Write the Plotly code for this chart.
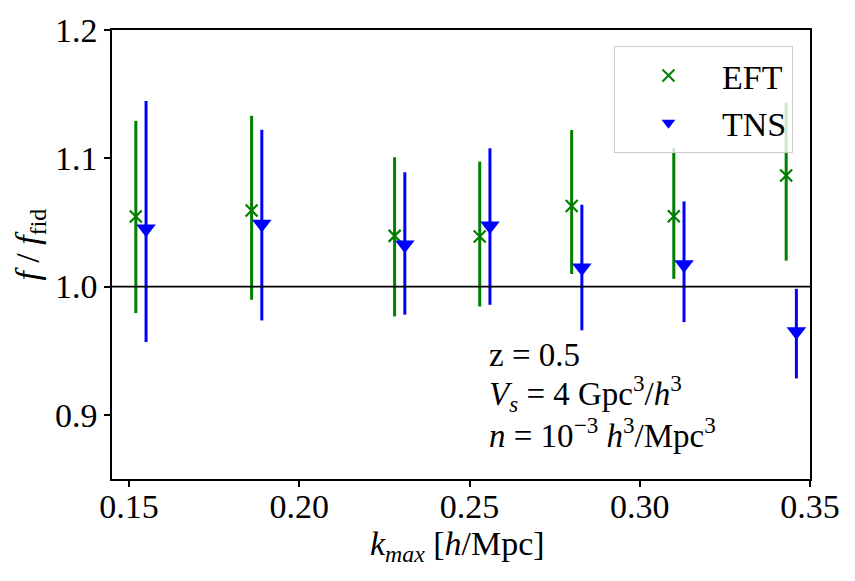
import plotly.graph_objects as go

# Data
k_eft = [0.152, 0.186, 0.228, 0.253, 0.280, 0.310, 0.343]
eft_val = [1.0546, 1.0593, 1.0395, 1.0390, 1.0628, 1.0548, 1.0866]
eft_hi = [1.1292, 1.1331, 1.1008, 1.0974, 1.1220, 1.1078, 1.1434]
eft_lo = [0.9793, 0.9897, 0.9767, 0.9845, 1.0098, 1.0060, 1.0202]

k_tns = [0.155, 0.189, 0.231, 0.256, 0.283, 0.313, 0.346]
tns_val = [1.0450, 1.0488, 1.0326, 1.0475, 1.0147, 1.0173, 0.9649]
tns_hi = [1.1447, 1.1222, 1.0891, 1.1078, 1.0638, 1.0664, 0.9982]
tns_lo = [0.9568, 0.9736, 0.9781, 0.9858, 0.9659, 0.9723, 0.9284]

x_ticks = [0.15, 0.20, 0.25, 0.30, 0.35]
y_ticks = [0.9, 1.0, 1.1, 1.2]

FONT = "Liberation Serif"
GREEN = "#008000"
BLUE = "#0000ff"

fig = go.Figure()

fig.add_trace(go.Scatter(
    x=k_eft, y=eft_val, mode="markers", name="EFT",
    marker=dict(symbol="x-thin-open", size=12, color=GREEN,
                line=dict(color=GREEN, width=2.2)),
    error_y=dict(type="data", symmetric=False,
                 array=[h - v for h, v in zip(eft_hi, eft_val)],
                 arrayminus=[v - l for l, v in zip(eft_lo, eft_val)],
                 color=GREEN, thickness=3, width=0),
))

fig.add_trace(go.Scatter(
    x=k_tns, y=tns_val, mode="markers", name="TNS",
    marker=dict(symbol="triangle-down", size=17, color=BLUE,
                line=dict(width=0)),
    error_y=dict(type="data", symmetric=False,
                 array=[h - v for h, v in zip(tns_hi, tns_val)],
                 arrayminus=[v - l for l, v in zip(tns_lo, tns_val)],
                 color=BLUE, thickness=3, width=0),
))

fig.add_shape(type="line", xref="paper", x0=0, x1=1, yref="y", y0=1.0, y1=1.0,
              line=dict(color="black", width=1.8), layer="above")

ann_font = dict(family=FONT, size=33, color="black")
fig.add_annotation(x=0.2552, y=0.9465, xref="x", yref="y", xanchor="left", yanchor="middle",
                   text="z = 0.5", showarrow=False, font=ann_font)
fig.add_annotation(x=0.2552, y=0.9170, xref="x", yref="y", xanchor="left", yanchor="middle",
                   text="<i>V</i><sub><i>s</i></sub> = 4 Gpc<sup>3</sup>/<i>h</i><sup>3</sup>",
                   showarrow=False, font=ann_font)
fig.add_annotation(x=0.2552, y=0.8860, xref="x", yref="y", xanchor="left", yanchor="middle",
                   text="<i>n</i> = 10<sup>−3</sup> <i>h</i><sup>3</sup>/Mpc<sup>3</sup>",
                   showarrow=False, font=ann_font)

# axis titles
fig.add_annotation(x=0.4957, y=-0.150, xref="paper", yref="paper", xanchor="center", yanchor="middle",
                   text="<i>k</i><sub><i>max</i></sub> [<i>h</i>/Mpc]", showarrow=False,
                   font=dict(family=FONT, size=34))
fig.add_annotation(x=-0.1175, y=0.522, xref="paper", yref="paper", xanchor="center", yanchor="middle",
                   text="<i>f</i> / <i>f</i><sub>fid</sub>", showarrow=False, textangle=-90,
                   font=dict(family=FONT, size=34))

fig.update_layout(
    width=855, height=581,
    margin=dict(l=112, r=45, t=27, b=102),
    paper_bgcolor="white", plot_bgcolor="white",
    font=dict(family=FONT, size=34, color="black"),
    showlegend=True,
    legend=dict(x=0.9756, y=0.9646, xanchor="right", yanchor="top",
                bgcolor="rgba(255,255,255,0.8)", bordercolor="#cccccc", borderwidth=1,
                font=dict(family=FONT, size=34), itemsizing="constant",
                itemwidth=97, tracegroupgap=0),
    xaxis=dict(range=[0.145, 0.35], tickvals=x_ticks,
               ticktext=[f"{v:.2f}" for v in x_ticks],
               tickfont=dict(family=FONT, size=34), ticklabelstandoff=-10,
               showline=True, linecolor="black", linewidth=1.5, mirror=True,
               ticks="outside", ticklen=6, tickwidth=1.5, tickcolor="black",
               showgrid=False, zeroline=False),
    yaxis=dict(range=[0.85, 1.2], tickvals=y_ticks,
               ticktext=[f"{v:.1f}" for v in y_ticks],
               tickfont=dict(family=FONT, size=34),
               showline=True, linecolor="black", linewidth=1.5, mirror=True,
               ticks="outside", ticklen=6, tickwidth=1.5, tickcolor="black",
               showgrid=False, zeroline=False),
)

fig.write_html("out.html")
